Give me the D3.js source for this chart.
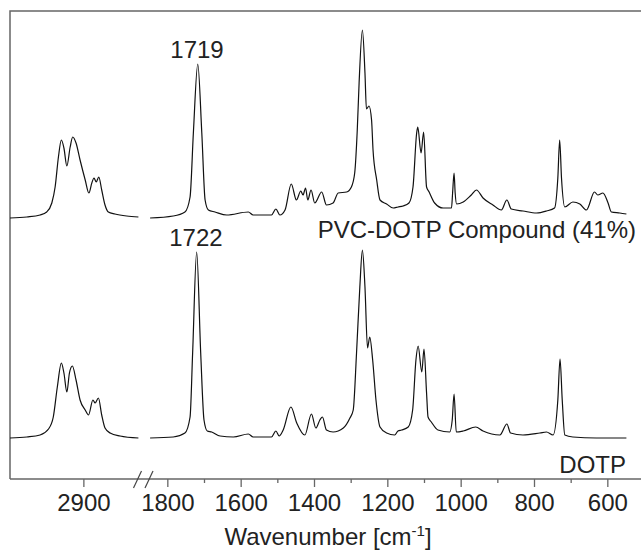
<!DOCTYPE html>
<html><head><meta charset="utf-8">
<script src="https://cdn.jsdelivr.net/npm/d3@7/dist/d3.min.js"></script>
<style>html,body{margin:0;padding:0;background:#fff;}svg{display:block;}</style>
</head><body>
<svg id="chart" width="641" height="560"></svg>
<script>
// ---- Data (wavenumber cm-1, absorbance a.u.) ----
const compoundLeft = [[3100,0.00],[3054,0.01],[3018,0.03],[3000,0.06],[2986,0.15],[2977,0.31],[2968,0.61],[2960,0.78],[2953,0.70],[2945,0.52],[2936,0.71],[2929,0.81],[2920,0.75],[2909,0.58],[2895,0.38],[2885,0.25],[2877,0.35],[2871,0.40],[2865,0.36],[2858,0.41],[2850,0.28],[2841,0.13],[2832,0.06],[2814,0.04],[2782,0.02],[2750,0.01]];
const compoundRight = [[1847,0.00],[1784,0.02],[1752,0.06],[1738,0.21],[1729,0.85],[1717,1.54],[1706,0.85],[1697,0.18],[1688,0.08],[1670,0.06],[1638,0.03],[1579,0.06],[1566,0.03],[1516,0.03],[1504,0.09],[1493,0.03],[1479,0.08],[1462,0.34],[1448,0.18],[1436,0.27],[1430,0.23],[1423,0.30],[1417,0.18],[1408,0.28],[1398,0.15],[1379,0.26],[1366,0.13],[1348,0.15],[1334,0.25],[1311,0.26],[1298,0.31],[1289,0.45],[1282,0.88],[1277,1.35],[1268,1.88],[1261,1.45],[1257,1.09],[1250,1.12],[1243,0.98],[1239,0.68],[1229,0.38],[1220,0.18],[1202,0.14],[1184,0.10],[1171,0.11],[1157,0.12],[1141,0.15],[1130,0.31],[1120,0.85],[1117,0.91],[1108,0.65],[1101,0.86],[1093,0.31],[1086,0.26],[1071,0.15],[1048,0.10],[1025,0.10],[1022,0.25],[1018,0.45],[1015,0.25],[1011,0.14],[993,0.16],[971,0.23],[957,0.28],[939,0.20],[912,0.13],[889,0.08],[874,0.18],[862,0.09],[830,0.07],[793,0.05],[766,0.07],[744,0.10],[735,0.40],[730,0.78],[725,0.40],[716,0.11],[694,0.16],[675,0.14],[657,0.08],[635,0.26],[626,0.23],[612,0.25],[598,0.15],[589,0.06],[566,0.05],[548,0.04]];
const dotpLeft = [[3100,0.00],[3054,0.01],[3018,0.03],[2995,0.09],[2982,0.21],[2971,0.51],[2960,0.75],[2953,0.65],[2945,0.46],[2938,0.65],[2930,0.72],[2920,0.58],[2909,0.38],[2895,0.28],[2886,0.23],[2874,0.38],[2868,0.35],[2859,0.40],[2850,0.23],[2841,0.10],[2827,0.05],[2800,0.02],[2750,0.00]];
const dotpRight = [[1847,0.00],[1784,0.01],[1752,0.05],[1738,0.21],[1731,0.85],[1720,1.86],[1709,0.85],[1700,0.18],[1691,0.07],[1679,0.06],[1656,0.02],[1620,0.01],[1579,0.04],[1566,0.01],[1516,0.01],[1504,0.07],[1495,0.02],[1484,0.08],[1463,0.31],[1447,0.15],[1425,0.03],[1407,0.24],[1395,0.10],[1384,0.18],[1377,0.21],[1366,0.08],[1348,0.06],[1320,0.10],[1302,0.20],[1293,0.28],[1284,0.85],[1275,1.51],[1268,1.88],[1261,1.51],[1254,0.90],[1248,1.01],[1240,0.78],[1231,0.38],[1220,0.11],[1202,0.05],[1180,0.03],[1171,0.07],[1161,0.08],[1143,0.11],[1131,0.28],[1122,0.78],[1116,0.92],[1106,0.66],[1100,0.89],[1093,0.45],[1089,0.21],[1080,0.16],[1062,0.08],[1030,0.06],[1023,0.18],[1018,0.44],[1012,0.06],[993,0.07],[959,0.11],[939,0.07],[893,0.03],[874,0.14],[864,0.05],[830,0.03],[784,0.05],[766,0.06],[748,0.03],[735,0.38],[729,0.79],[723,0.38],[716,0.03],[694,0.01],[630,0.00],[548,0.00]];
const compoundOffset = 2.2;
const leftMajorTicks = [2900];
const rightMajorTicks = [1800,1600,1400,1200,1000,800,600];
const rightMinorTicks = [1700,1500,1300,1100,900,700];
const peakLabels = [{text:"1719", wn:1719, v:1.54 + 2.2}, {text:"1722", wn:1722, v:1.86}];
const seriesNames = ["PVC-DOTP Compound (41%)", "DOTP"];

// ---- Layout ----
const svg = d3.select("#chart");
const mLeft = 10, mTop = 11, mBottom = 479, mRight = 644;
const xL = d3.scaleLinear().domain([3100, 2750]).range([mLeft, 138.4]);
const xR = d3.scaleLinear().domain([1850, 500]).range([149, mRight]);
const y = d3.scaleLinear().domain([-0.41, 4.27]).range([mBottom, mTop]);
const font = "'Liberation Sans', Arial, Helvetica, sans-serif";
const axisColor = "#666";

// frame
svg.append("path")
  .attr("d", `M${mLeft},${mBottom}V${mTop}H${mRight+2}`)
  .attr("fill","none").attr("stroke",axisColor).attr("stroke-width",1.5);
svg.append("line").attr("x1",mLeft).attr("x2",mRight+2).attr("y1",mBottom).attr("y2",mBottom)
  .attr("stroke",axisColor).attr("stroke-width",1.5);

// axes via d3.axisBottom
function drawAxis(scale, ticks, size, labels) {
  const ax = d3.axisBottom(scale).tickValues(ticks).tickSize(size).tickSizeOuter(0).tickPadding(7)
    .tickFormat(labels ? d3.format("d") : "");
  const g = svg.append("g").attr("transform", `translate(0,${mBottom})`).call(ax);
  g.select(".domain").remove();
  g.selectAll(".tick line").attr("stroke", axisColor).attr("stroke-width", 1.3);
  g.selectAll(".tick text").attr("font-family", font).attr("font-size", 24).attr("fill", "#222");
}
drawAxis(xL, leftMajorTicks, 8, true);
drawAxis(xR, rightMajorTicks, 8, true);
drawAxis(xR, rightMinorTicks, 4, false);

// break marks
[[133.5,141.5],[145,153]].forEach(([x0,x1]) => {
  svg.append("line").attr("x1",x0).attr("y1",mBottom+9).attr("x2",x1).attr("y2",mBottom-8)
    .attr("stroke","#444").attr("stroke-width",1.2);
});

// spectra
function drawLine(data, xs, offset) {
  const line = d3.line().x(d => xs(d[0])).y(d => y(d[1] + offset)).curve(d3.curveMonotoneX);
  svg.append("path").datum(data).attr("d", line)
    .attr("fill","none").attr("stroke","#111").attr("stroke-width",1.2).attr("stroke-linejoin","round");
}
drawLine(compoundLeft, xL, compoundOffset);
drawLine(compoundRight, xR, compoundOffset);
drawLine(dotpLeft, xL, 0);
drawLine(dotpRight, xR, 0);

// peak labels
peakLabels.forEach(p => {
  svg.append("text").attr("x", xR(p.wn)).attr("y", y(p.v) - 6)
    .attr("text-anchor","middle").attr("font-family",font).attr("font-size",24).attr("fill","#222")
    .text(p.text);
});

// series labels
svg.append("text").attr("x", 636).attr("y", 238).attr("text-anchor","end")
  .attr("font-family",font).attr("font-size",24).attr("fill","#222").text(seriesNames[0]);
svg.append("text").attr("x", 626).attr("y", 473).attr("text-anchor","end")
  .attr("font-family",font).attr("font-size",24).attr("fill","#222").text(seriesNames[1]);

// axis title
const t = svg.append("text").attr("x", 328).attr("y", 545).attr("text-anchor","middle")
  .attr("font-family",font).attr("font-size",24).attr("fill","#222");
t.append("tspan").text("Wavenumber [cm");
t.append("tspan").attr("font-size",15).attr("dy",-9).text("-1");
t.append("tspan").attr("dy",9).text("]");
</script>
</body></html>
